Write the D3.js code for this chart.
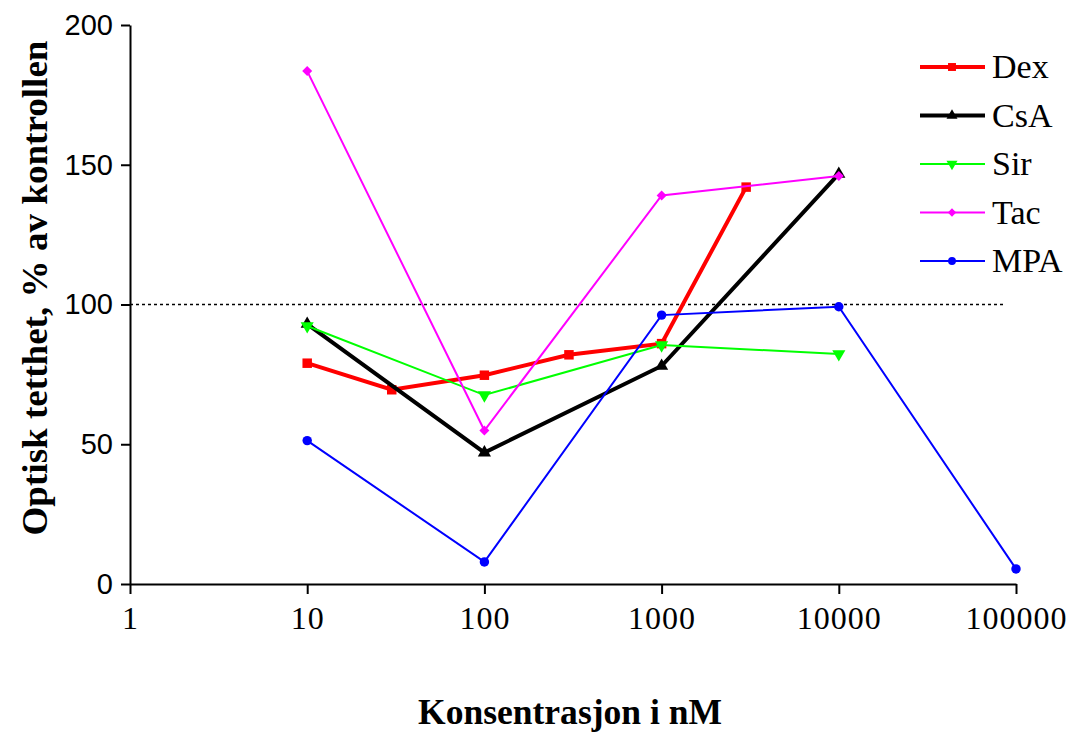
<!DOCTYPE html>
<html>
<head>
<meta charset="utf-8">
<script src="https://cdn.jsdelivr.net/npm/d3@7"></script>
<style>
  body { margin: 0; background: #fff; }
  .axis path, .axis line { stroke: #000; stroke-width: 2px; }
  .y-axis text { font-family: "Liberation Sans", Arial, sans-serif; font-size: 29px; fill: #000; }
  .x-axis text { font-family: "Liberation Serif", "Times New Roman", serif; font-size: 32px; fill: #000; letter-spacing: 1px; }
  .title { font-family: "Liberation Serif", "Times New Roman", serif; font-weight: bold; font-size: 35px; }
  .legend text { font-family: "Liberation Serif", "Times New Roman", serif; font-size: 34px; }
</style>
</head>
<body>
<div id="chart"></div>
<script>
// concentrations (nM) and optical density (% of control)
var dexConc = [10, 30, 100, 300, 1000, 3000];
var dexVals = [79, 69.5, 74.7, 82, 86, 142];
var csaConc = [10, 100, 1000, 10000];
var csaVals = [93, 47, 78, 146.7];
var sirConc = [10, 100, 1000, 10000];
var sirVals = [92.3, 67.6, 85.5, 82.3];
var tacConc = [10, 100, 1000, 10000];
var tacVals = [183.5, 54.9, 139, 146];
var mpaConc = [10, 100, 1000, 10000, 100000];
var mpaVals = [51.3, 7.9, 96.2, 99.2, 5.4];

var xTicks = [1, 10, 100, 1000, 10000, 100000];
var yTicks = [0, 50, 100, 150, 200];
var refLine = 100;

var series = [
  {name: "Dex", conc: dexConc, vals: dexVals, color: "#ff0000", width: 4, symbol: d3.symbolSquare, size: 90, rot: 0},
  {name: "CsA", conc: csaConc, vals: csaVals, color: "#000000", width: 4, symbol: d3.symbolTriangle, size: 75, rot: 0},
  {name: "Sir", conc: sirConc, vals: sirVals, color: "#00ff00", width: 2, symbol: d3.symbolTriangle, size: 75, rot: 180},
  {name: "Tac", conc: tacConc, vals: tacVals, color: "#ff00ff", width: 2, symbol: d3.symbolSquare, size: 50, rot: 45},
  {name: "MPA", conc: mpaConc, vals: mpaVals, color: "#0000ff", width: 2, symbol: d3.symbolCircle, size: 70, rot: 0}
];

var width = 1074, height = 733;

var svg = d3.select("#chart").append("svg")
  .attr("width", width)
  .attr("height", height);

var x = d3.scaleLog().domain([1, 100000]).range([130, 1016]);
var y = d3.scaleLinear().domain([0, 200]).range([584, 25]);

// reference line at 100%
svg.append("line")
  .attr("x1", x(1)).attr("x2", 1005)
  .attr("y1", y(refLine)).attr("y2", y(refLine))
  .attr("stroke", "#000")
  .attr("stroke-width", 1.5)
  .attr("stroke-dasharray", "3,3");

var yAxis = d3.axisLeft(y)
  .tickValues(yTicks)
  .tickSize(9)
  .tickSizeOuter(0)
  .tickPadding(8);

svg.append("g")
  .attr("class", "axis y-axis")
  .attr("transform", `translate(${x(1)},0)`)
  .call(yAxis);

var xAxis = d3.axisBottom(x)
  .tickValues(xTicks)
  .tickFormat(d3.format("d"))
  .tickSize(10)
  .tickSizeOuter(0);

var gx = svg.append("g")
  .attr("class", "axis x-axis")
  .attr("transform", `translate(0,${y(0)})`)
  .call(xAxis);

gx.selectAll("text").attr("y", 45).attr("dy", 0);

var line = d3.line()
  .x(d => x(d[0]))
  .y(d => y(d[1]));

series.forEach(s => {
  var pts = s.conc.map((c, i) => [c, s.vals[i]]);
  var g = svg.append("g");
  g.append("path")
    .datum(pts)
    .attr("d", line)
    .attr("fill", "none")
    .attr("stroke", s.color)
    .attr("stroke-width", s.width)
    .attr("stroke-linejoin", "miter");
  g.selectAll("path.pt")
    .data(pts)
    .enter().append("path")
    .attr("class", "pt")
    .attr("d", d3.symbol().type(s.symbol).size(s.size))
    .attr("fill", s.color)
    .attr("transform", d => `translate(${x(d[0])},${y(d[1])}) rotate(${s.rot})`);
});

// legend
var legend = svg.append("g").attr("class", "legend");
series.forEach((s, i) => {
  var ly = 67 + i * 48.5;
  legend.append("line")
    .attr("x1", 920).attr("x2", 985)
    .attr("y1", ly).attr("y2", ly)
    .attr("stroke", s.color)
    .attr("stroke-width", s.width);
  legend.append("path")
    .attr("d", d3.symbol().type(s.symbol).size(s.size * 0.7))
    .attr("fill", s.color)
    .attr("transform", `translate(952,${ly}) rotate(${s.rot})`);
  legend.append("text")
    .attr("x", 992)
    .attr("y", ly + 11)
    .text(s.name);
});

// axis titles
svg.append("text")
  .attr("class", "title")
  .attr("text-anchor", "middle")
  .attr("x", 570)
  .attr("y", 724)
  .attr("textLength", 304)
  .attr("lengthAdjust", "spacingAndGlyphs")
  .text("Konsentrasjon i nM");

svg.append("text")
  .attr("class", "title")
  .attr("text-anchor", "middle")
  .attr("transform", "translate(47,288) rotate(-90)")
  .attr("textLength", 495)
  .attr("lengthAdjust", "spacingAndGlyphs")
  .text("Optisk tetthet, % av kontrollen");
</script>
</body>
</html>
